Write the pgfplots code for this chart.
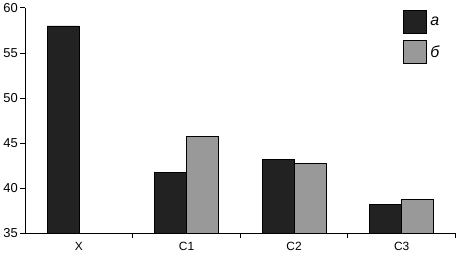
\documentclass[border=0pt]{standalone}
\usepackage{pgfplots}
\pgfplotsset{compat=1.18}
\usepackage{fontspec}
\setmainfont{Liberation Sans}
\definecolor{dark}{HTML}{222222}
\definecolor{mid}{HTML}{999999}
\begin{document}
\begin{tikzpicture}
\begin{axis}[
  scale only axis, width=431bp, height=226bp,
  ymin=35, ymax=60, ytick={35,40,...,60},
  xmin=-0.5, xmax=3.5,
  xtick={0,1,2,3}, xticklabels={X,C1,C2,C3},
  major x tick style={draw=none},
  minor xtick={0.5,1.5,2.5,3.5},
  minor tick length=5bp, major tick length=5bp,
  axis x line*=bottom, axis y line*=left,
  tick align=outside,
  axis line style={line width=1.2bp, black},
  every tick/.style={line width=1bp, black},
  /pgf/number format/assume math mode=true,
  yticklabel style={font=\fontsize{13}{15}\selectfont, xshift=1bp},
  xticklabel style={font=\fontsize{12}{14}\selectfont},
  ybar=0pt, bar width=32bp,
  legend style={at={(0.877,0.993)}, anchor=north west, draw=none, fill=none,
    font=\fontsize{16}{18}\selectfont\itshape, inner sep=0pt, row sep=7bp,
    nodes={inner xsep=4bp}},
  legend cell align=left,
  legend image code/.code={\draw[#1] (0bp,-11.5bp) rectangle (23bp,11.5bp);},
]
\addplot[fill=dark, draw=black, line width=0.8bp] coordinates {(0,58.0) (1,41.8) (2,43.2) (3,38.2)};
\addplot[fill=mid, draw=black, line width=0.8bp] coordinates {(1,45.8) (2,42.8) (3,38.8)};
\legend{а,б}
\end{axis}
\end{tikzpicture}
\end{document}
